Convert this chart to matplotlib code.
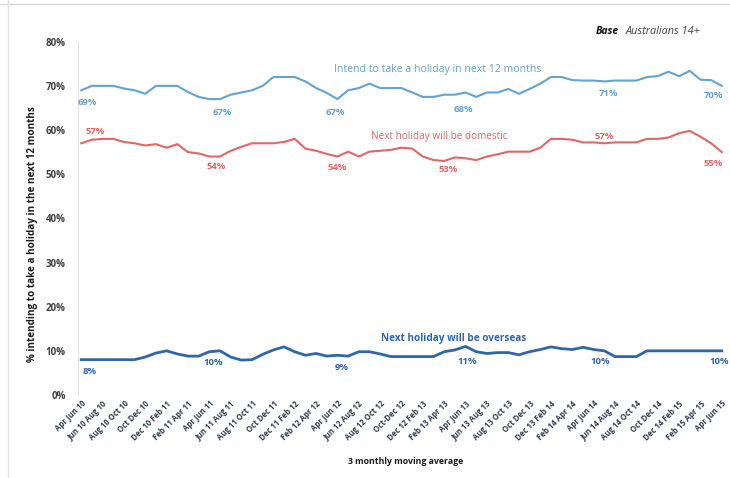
import matplotlib.pyplot as plt
from matplotlib.lines import Line2D

plt.rcParams['font.family'] = ['Open Sans', 'DejaVu Sans']

tick_labels = [
    "Apr Jun 10", "Jun 10 Aug 10", "Aug 10 Oct 10", "Oct Dec 10", "Dec 10 Feb 11",
    "Feb 11 Apr 11", "Apr Jun 11", "Jun 11 Aug 11", "Aug 11 Oct 11", "Oct Dec 11",
    "Dec 11 Feb 12", "Feb 12 Apr 12", "Apr Jun 12", "Jun 12 Aug 12", "Aug 12 Oct 12",
    "Oct-Dec 12", "Dec 12 Feb 13", "Feb 13 Apr 13", "Apr Jun 13", "Jun 13 Aug 13",
    "Aug 13 Oct 13", "Oct Dec 13", "Dec 13 Feb 14", "Feb 14 Apr 14", "Apr Jun 14",
    "Jun 14 Aug 14", "Aug 14 Oct 14", "Oct Dec 14", "Dec 14 Feb 15", "Feb 15 Apr 15",
    "Apr Jun 15",
]

# monthly rolling 3-month values, Apr-Jun 10 .. Apr-Jun 15
intend = [69, 70, 70, 70, 69.4, 69, 68.2, 70, 70, 70,
          68.6, 67.5, 67, 67, 68, 68.5, 69, 70, 72, 72,
          72, 71, 69.5, 68.4, 67, 69, 69.5, 70.5, 69.5, 69.5,
          69.5, 68.5, 67.5, 67.5, 68, 68, 68.5, 67.5, 68.5, 68.5,
          69.3, 68.2, 69.3, 70.5, 72, 72, 71.3, 71.2, 71.2, 71,
          71.2, 71.2, 71.2, 72, 72.2, 73.2, 72.2, 73.4, 71.4, 71.3,
          70]
domestic = [57, 57.8, 58, 58, 57.3, 57, 56.5, 56.8, 56, 56.8,
            55, 54.7, 54, 54, 55.3, 56.2, 57, 57, 57, 57.3,
            58, 55.8, 55.3, 54.6, 54, 55.1, 54, 55.1, 55.3, 55.5,
            56, 55.8, 54, 53.2, 53, 53.8, 53.6, 53.2, 54, 54.5,
            55.1, 55.1, 55.1, 56, 58, 58, 57.8, 57.2, 57.2, 57,
            57.2, 57.2, 57.2, 58, 58, 58.3, 59.3, 59.8, 58.5, 57,
            55]
overseas = [8, 8, 8, 8, 8, 8, 8.6, 9.5, 10, 9.3,
            8.8, 8.8, 9.8, 10, 8.6, 7.9, 8, 9.2, 10.2, 10.9,
            9.8, 9, 9.4, 8.8, 9, 8.8, 9.8, 9.8, 9.3, 8.7,
            8.7, 8.7, 8.7, 8.7, 9.8, 10.2, 11, 9.8, 9.4, 9.6,
            9.6, 9.1, 9.8, 10.3, 10.9, 10.5, 10.3, 10.8, 10.3, 10,
            8.7, 8.7, 8.7, 10, 10, 10, 10, 10, 10, 10,
            10]

# (index, x offset px, y offset px) for value callouts
intend_callouts = [(0, 6, -12), (13, 2, -13), (24, -2, -13), (35, 8, -15), (49, 4, -12), (60, -8, -10)]
domestic_callouts = [(0, 14, 12), (13, -4, -10), (24, 0, -11), (34, 4, -9), (49, 0, 7), (60, -9, -11)]
overseas_callouts = [(0, 8, -12), (13, -7, -12), (24, 4, -12), (36, 2, -15), (49, -4, -11), (60, -3, -11)]

c_intend = '#64a2cf'
c_domestic = '#e26666'
c_overseas = '#2f66a8'

fig = plt.figure(figsize=(7.30, 4.78), dpi=100)
ax = fig.add_axes([78 / 730, 83 / 478, 647 / 730, 353.3 / 478])

x = list(range(len(intend)))
ax.plot(x, intend, color=c_intend, lw=1.5, solid_joinstyle='round')
ax.plot(x, domestic, color=c_domestic, lw=1.5, solid_joinstyle='round')
ax.plot(x, overseas, color=c_overseas, lw=2.0, solid_joinstyle='round')


def callouts(values, spots, color):
    for i, dx, dy in spots:
        ax.annotate(f"{values[i]:.0f}%", (i, values[i]), xytext=(dx * 0.72, dy * 0.72),
                    textcoords='offset points', ha='center', va='center',
                    fontsize=6.8, fontweight='bold', color=color)


callouts(intend, intend_callouts, c_intend)
callouts(domestic, domestic_callouts, c_domestic)
callouts(overseas, overseas_callouts, c_overseas)

ax.text(33.4, 73.6, "Intend to take a holiday in next 12 months", color=c_intend,
        fontsize=7.6, ha='center', va='center')
ax.text(33.5, 58.5, "Next holiday will be domestic", color=c_domestic,
        fontsize=7.2, ha='center', va='center')
ax.text(34.9, 12.9, "Next holiday will be overseas", color=c_overseas,
        fontsize=7.2, fontweight='bold', ha='center', va='center')

ax.set_xlim(-0.3, 60.3)
ax.set_ylim(0, 80)
ax.set_yticks(range(0, 81, 10))
ax.set_yticklabels([f"{v}%" for v in range(0, 81, 10)], fontsize=7,
                   fontweight='bold', color='#404040')
ax.set_xticks(range(0, 61, 2))
ax.set_xticklabels(tick_labels, rotation=45, ha='right', rotation_mode='anchor',
                   fontsize=5.6, fontweight='bold', color='#2d3a4f')
ax.tick_params(axis='y', length=0, pad=9)
ax.tick_params(axis='x', length=0, pad=3)

for s in ['top', 'right', 'bottom']:
    ax.spines[s].set_visible(False)
ax.spines['left'].set_color('#e4e4e4')
ax.spines['left'].set_linewidth(0.8)

ax.set_ylabel("% intending to take a holiday in the next 12 months", fontsize=7.1,
              fontweight='bold', color='#1a1a1a')
ax.yaxis.set_label_coords(-0.062, 0.456)
fig.text(406 / 730, 1 - 462 / 478, "3 monthly moving average", fontsize=6.3,
         fontweight='bold', color='#1a1a1a', ha='center', va='center')

fig.text(619 / 730, 1 - 31.5 / 478, "Base", fontsize=7.5, fontweight='bold',
         style='italic', color='#111111', ha='right', va='center')
fig.text(626 / 730, 1 - 31.5 / 478, "Australians 14+", fontsize=7.8,
         style='italic', color='#444444', ha='left', va='center')

# thin frame lines along the top and left edge
fig.add_artist(Line2D([0, 1], [1 - 4 / 478, 1 - 4 / 478], color='#d8d8d8', lw=1))
fig.add_artist(Line2D([8 / 730, 8 / 730], [0, 1], color='#e2e2e2', lw=1))

fig.savefig('out.png', dpi=100)
